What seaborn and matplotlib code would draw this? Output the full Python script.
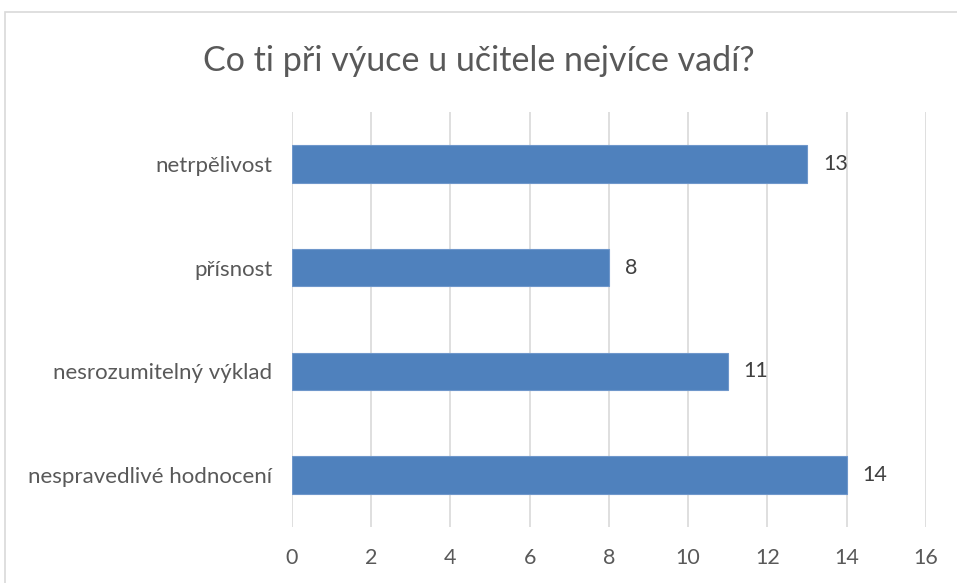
import matplotlib.pyplot as plt
import matplotlib.patches as mpatches
import pandas as pd
import seaborn as sns

categories = ["netrpělivost", "přísnost", "nesrozumitelný výklad", "nespravedlivé hodnocení"]
counts = [13, 8, 11, 14]
x_ticks = [0, 2, 4, 6, 8, 10, 12, 14, 16]

sns.set_style("white")
plt.rcParams['font.family'] = ['Lato', 'DejaVu Sans']

df = pd.DataFrame({"category": categories, "count": counts})

fig = plt.figure(figsize=(9.57, 5.83), dpi=100)
ax = fig.add_axes([0.305, 0.096, 0.6625, 0.712])

# chart frame like the office export
fig.patches.append(mpatches.Rectangle((0.005, -0.05), 1.05, 1.03, transform=fig.transFigure,
                                      fill=False, edgecolor="#d9d9d9", linewidth=1.2))

sns.barplot(data=df, x="count", y="category", orient="h", color="#4f81bd",
            width=0.36, edgecolor="#6f97cb", linewidth=0.8, saturation=1, ax=ax)

for i, v in enumerate(counts):
    ax.text(v + 0.4, i, str(v), va="center", ha="left", fontsize=15.5, color="#404040")

ax.set_xlim(0, 16)
ax.set_ylim(3.5, -0.5)
ax.set_xticks(x_ticks)
ax.grid(axis="x", color="#d9d9d9", linewidth=1.2)
ax.set_axisbelow(True)
for s in ax.spines.values():
    s.set_visible(False)
ax.tick_params(axis="x", length=0, labelsize=15.5, colors="#595959", pad=15)
ax.tick_params(axis="y", length=0, labelsize=16, colors="#595959", pad=14)
ax.set_xlabel("")
ax.set_ylabel("")

fig.text(0.5, 0.895, "Co ti při výuce u učitele nejvíce vadí?", ha="center", va="center",
         fontsize=24.5, color="#595959")

fig.savefig("out.png", dpi=100)
